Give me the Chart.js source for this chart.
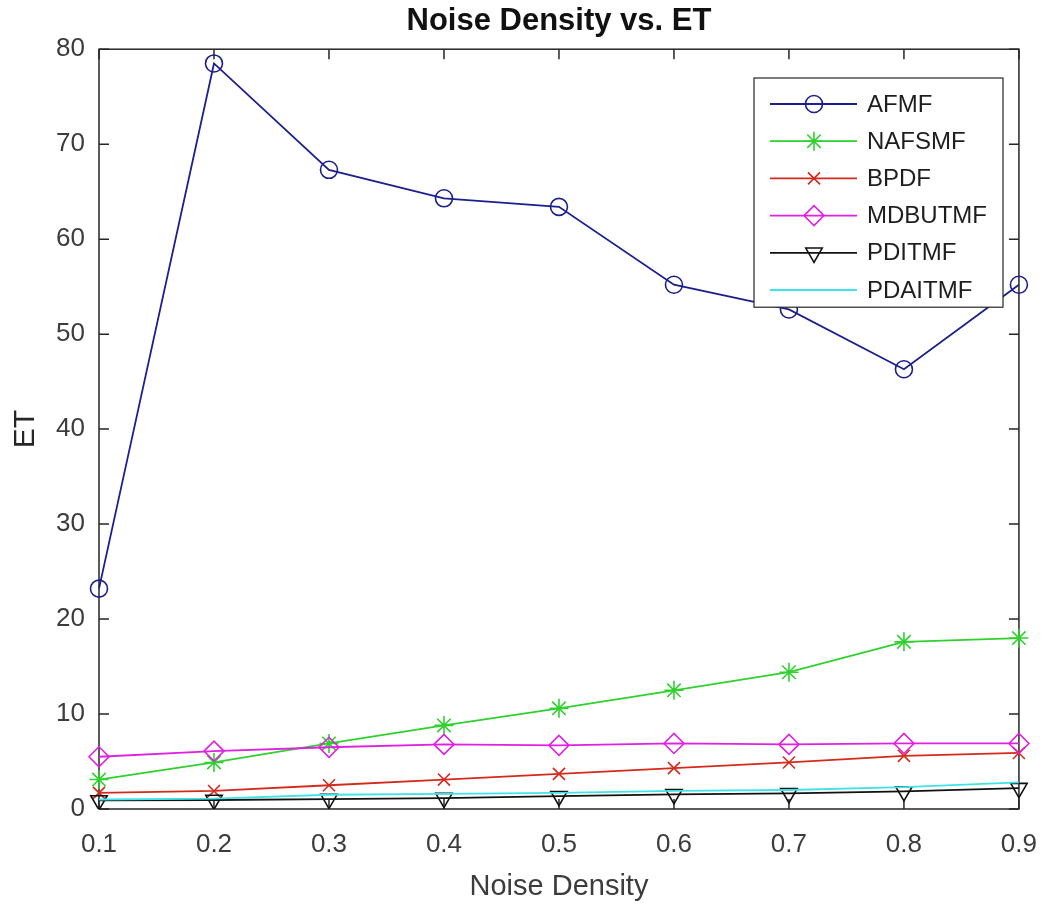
<!DOCTYPE html>
<html>
<head>
<meta charset="utf-8">
<script src="https://cdn.jsdelivr.net/npm/chart.js@4/dist/chart.umd.min.js"></script>
<style>
  body { margin: 0; background: #fff; }
  #wrap { width: 1057px; height: 908px; }
</style>
</head>
<body>
<div id="wrap"><canvas id="myChart" width="1057" height="908"></canvas></div>
<script>
// noise densities on the x axis
var densidades = ['0.1', '0.2', '0.3', '0.4', '0.5', '0.6', '0.7', '0.8', '0.9']

// ET for each filter
var afmf = [23.2, 78.5, 67.3, 64.3, 63.4, 55.2, 52.6, 46.3, 55.2]
var nafsmf = [3.1, 4.9, 6.9, 8.8, 10.6, 12.5, 14.4, 17.6, 18.0]
var bpdf = [1.7, 1.9, 2.5, 3.1, 3.7, 4.3, 4.9, 5.6, 5.9]
var mdbutmf = [5.5, 6.1, 6.5, 6.8, 6.7, 6.9, 6.8, 6.9, 6.9]
var pditmf = [0.9, 0.95, 1.05, 1.15, 1.35, 1.55, 1.65, 1.85, 2.2]
var pdaitmf = [1.0, 1.1, 1.5, 1.6, 1.7, 1.9, 2.0, 2.3, 2.8]

var fuente = "'Liberation Sans', Arial, sans-serif"
var gris = '#3c3c3c'

function serie(nombre, datos, color, estilo, radio, giro, capa) {
    return {
        label: nombre,
        data: datos,
        borderColor: color,
        borderWidth: 1.8,
        backgroundColor: 'rgba(0,0,0,0)',
        pointStyle: estilo,
        pointRadius: radio,
        pointBorderWidth: 1.6,
        pointRotation: giro,
        pointBackgroundColor: 'rgba(0,0,0,0)',
        pointBorderColor: color,
        tension: 0,
        order: capa
    }
}

// box round the plot with inward ticks on all four sides
var marco = {
    id: 'marco',
    beforeDatasetsDraw(chart) {
        var ctx = chart.ctx
        var a = chart.chartArea
        var x = chart.scales.x
        var y = chart.scales.y
        ctx.save()
        ctx.strokeStyle = '#262626'
        ctx.lineWidth = 1.5
        ctx.strokeRect(a.left, a.top, a.right - a.left, a.bottom - a.top)
        ctx.beginPath()
        for (var i = 0; i < x.ticks.length; i++) {
            var px = x.getPixelForTick(i)
            ctx.moveTo(px, a.bottom); ctx.lineTo(px, a.bottom - 10)
            ctx.moveTo(px, a.top); ctx.lineTo(px, a.top + 10)
        }
        for (var j = 0; j < y.ticks.length; j++) {
            var py = y.getPixelForTick(j)
            ctx.moveTo(a.left, py); ctx.lineTo(a.left + 10, py)
            ctx.moveTo(a.right, py); ctx.lineTo(a.right - 10, py)
        }
        ctx.stroke()
        ctx.restore()
    }
}

// legend box in the upper right corner of the plot
var leyenda = {
    id: 'leyenda',
    afterDraw(chart) {
        var ctx = chart.ctx
        var sets = chart.data.datasets
        var x0 = 754, y0 = 78, w = 249, paso = 37.2
        var h = paso * sets.length + 6
        ctx.save()
        ctx.fillStyle = '#fff'
        ctx.fillRect(x0, y0, w, h)
        ctx.strokeStyle = '#262626'
        ctx.lineWidth = 1.2
        ctx.strokeRect(x0, y0, w, h)
        ctx.font = '24px ' + fuente
        ctx.textBaseline = 'middle'
        for (var i = 0; i < sets.length; i++) {
            var d = sets[i]
            var cy = y0 + 26 + i * paso
            ctx.strokeStyle = d.borderColor
            ctx.lineWidth = d.borderWidth
            ctx.beginPath()
            ctx.moveTo(x0 + 16, cy)
            ctx.lineTo(x0 + 103, cy)
            ctx.stroke()
            if (d.pointRadius > 0) {
                ctx.strokeStyle = d.pointBorderColor
                ctx.fillStyle = 'rgba(0,0,0,0)'
                ctx.lineWidth = d.pointBorderWidth
                Chart.helpers.drawPoint(ctx, {
                    pointStyle: d.pointStyle,
                    rotation: d.pointRotation,
                    radius: d.pointRadius,
                    borderWidth: d.pointBorderWidth
                }, x0 + 60, cy)
            }
            ctx.fillStyle = '#1e1e1e'
            ctx.fillText(d.label, x0 + 113, cy + 1)
        }
        ctx.restore()
    }
}

var ctx = document.getElementById('myChart').getContext('2d')
var chart = new Chart(ctx, {
    type: 'line',
    data: {
        labels: densidades,
        datasets: [
            serie('AFMF', afmf, '#1c1f8c', 'circle', 8.5, 0, 5),
            serie('NAFSMF', nafsmf, '#2fd12f', 'star', 9.5, 0, 4),
            serie('BPDF', bpdf, '#d42a1c', 'crossRot', 8.5, 0, 3),
            serie('MDBUTMF', mdbutmf, '#e021e0', 'rectRot', 10, 0, 2),
            serie('PDITMF', pditmf, '#111111', 'triangle', 9.5, 180, 1),
            serie('PDAITMF', pdaitmf, '#3fe3e8', 'circle', 0, 0, 0)
        ]
    },
    options: {
        responsive: false,
        animation: false,
        layout: { padding: { left: 0, right: 28, top: 0, bottom: 0 } },
        plugins: {
            legend: { display: false },
            tooltip: { enabled: false },
            title: {
                display: true,
                fullSize: false,
                text: 'Noise Density vs. ET',
                color: '#111',
                font: { family: fuente, size: 31, weight: 'bold' },
                padding: { top: 3, bottom: 9 }
            }
        },
        scales: {
            x: {
                type: 'category',
                offset: false,
                grid: { display: false, drawTicks: false },
                border: { display: false },
                ticks: { color: gris, font: { family: fuente, size: 26 }, padding: 20, maxRotation: 0 },
                title: {
                    display: true,
                    text: 'Noise Density',
                    color: gris,
                    font: { family: fuente, size: 29 },
                    padding: { top: 0, bottom: 4 }
                },
                afterFit: function (s) { s.height = 99 }
            },
            y: {
                min: 0,
                max: 80,
                grid: { display: false, drawTicks: false },
                border: { display: false },
                ticks: { stepSize: 10, color: gris, font: { family: fuente, size: 26 }, padding: 14 },
                title: {
                    display: true,
                    text: 'ET',
                    color: '#262626',
                    font: { family: fuente, size: 30 },
                    padding: { top: 8, bottom: 0 }
                },
                afterFit: function (s) { s.width = 99 }
            }
        }
    },
    plugins: [marco, leyenda]
})
</script>
</body>
</html>
